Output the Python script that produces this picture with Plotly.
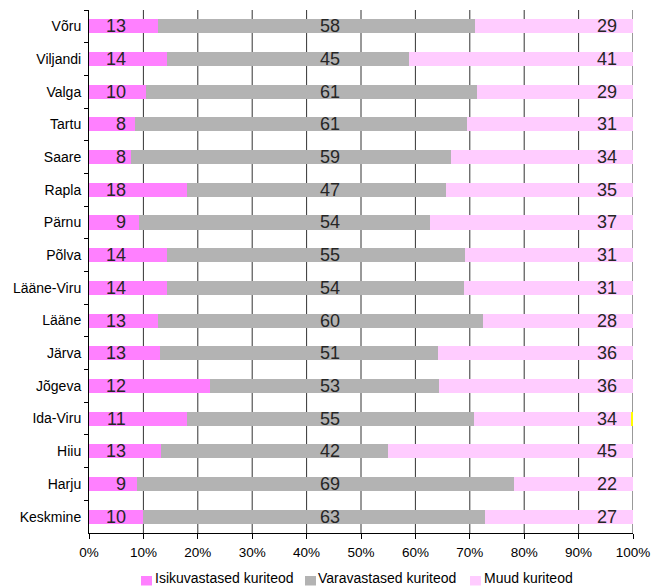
import plotly.graph_objects as go

# Categories (top to bottom)
regions = ["Võru", "Viljandi", "Valga", "Tartu", "Saare", "Rapla", "Pärnu", "Põlva",
           "Lääne-Viru", "Lääne", "Järva", "Jõgeva", "Ida-Viru", "Hiiu", "Harju", "Keskmine"]

# Segment widths (percent) as drawn
isiku = [12.6, 14.4, 10.4, 8.4, 7.8, 18.0, 9.2, 14.4, 14.3, 12.6, 13.0, 22.2, 18.0, 13.3, 8.8, 10.0]
vara = [58.4, 44.4, 60.9, 61.1, 58.7, 47.6, 53.5, 54.7, 54.6, 59.8, 51.2, 42.1, 52.8, 41.7, 69.3, 62.8]
muud = [29.0, 41.2, 28.7, 30.5, 33.5, 34.4, 37.3, 30.9, 31.1, 27.6, 35.8, 35.7, 28.9, 45.0, 21.9, 27.2]
muu2 = [0, 0, 0, 0, 0, 0, 0, 0, 0, 0, 0, 0, 0.3, 0, 0, 0]

# Printed data labels
lab_isiku = [13, 14, 10, 8, 8, 18, 9, 14, 14, 13, 13, 12, 11, 13, 9, 10]
lab_vara = [58, 45, 61, 61, 59, 47, 54, 55, 54, 60, 51, 53, 55, 42, 69, 63]
lab_muud = [29, 41, 29, 31, 34, 35, 37, 31, 31, 28, 36, 36, 34, 45, 22, 27]

x_ticks = list(range(0, 101, 10))

series_names = ["Isikuvastased kuriteod", "Varavastased kuriteod", "Muud kuriteod"]
series_colors = ["#FF80FF", "#B3B3B3", "#FFCCFF"]

FONT = "Liberation Sans, Arial, sans-serif"
W, H = 652, 587
PLOT_L, PLOT_W = 89, 544
PLOT_T, PLOT_H = 10, 523


def px_x(px):
    return (px - PLOT_L) / PLOT_W


def px_y(py):
    return (PLOT_T + PLOT_H - py) / PLOT_H


fig = go.Figure()
for name, vals, col in zip(series_names, [isiku, vara, muud], series_colors):
    fig.add_trace(go.Bar(y=regions, x=vals, orientation="h", name=name,
                         marker=dict(color=col, line=dict(width=0)), showlegend=False,
                         hoverinfo="skip"))
fig.add_trace(go.Bar(y=regions, x=muu2, orientation="h", name="",
                     marker=dict(color="#FFFF00", line=dict(width=0)), showlegend=False,
                     hoverinfo="skip"))

# vertical gridlines (drawn beneath the bars)
for v in x_ticks[1:]:
    fig.add_shape(type="line", xref="x", yref="paper", x0=v, x1=v, y0=0, y1=1,
                  line=dict(color="#333333", width=1), layer="below")

annotations = []
for r, a, b, c in zip(regions, lab_isiku, lab_vara, lab_muud):
    annotations.append(dict(x=7.2, y=r, xref="x", yref="y", text=str(a), showarrow=False,
                            xanchor="right", font=dict(size=18, color="#262626", family=FONT)))
    annotations.append(dict(x=44.3, y=r, xref="x", yref="y", text=str(b), showarrow=False,
                            xanchor="center", font=dict(size=18, color="#262626", family=FONT)))
    annotations.append(dict(x=97.5, y=r, xref="x", yref="y", text=str(c), showarrow=False,
                            xanchor="right", font=dict(size=18, color="#262626", family=FONT)))

# legend (swatch + text) placed as in the reference
legend_sq_px = [141, 305, 470]
legend_txt_px = [154, 317, 483]
for name, col, sx, tx in zip(series_names, series_colors, legend_sq_px, legend_txt_px):
    fig.add_shape(type="rect", xref="paper", yref="paper",
                  x0=px_x(sx), x1=px_x(sx + 11), y0=px_y(585.5), y1=px_y(576),
                  fillcolor=col, line=dict(width=0))
    annotations.append(dict(x=px_x(tx), y=px_y(586.5), xref="paper", yref="paper",
                            text=name, showarrow=False, xanchor="left", yanchor="bottom",
                            borderpad=0,
                            font=dict(size=14, color="black", family=FONT)))

fig.update_layout(
    barmode="stack",
    bargap=0.57,
    width=W, height=H,
    margin=dict(l=PLOT_L, r=W - PLOT_L - PLOT_W, t=PLOT_T, b=H - PLOT_T - PLOT_H),
    plot_bgcolor="white", paper_bgcolor="white",
    font=dict(family=FONT, color="black"),
    showlegend=False,
    annotations=annotations,
    xaxis=dict(range=[0, 100], tickvals=x_ticks, ticktext=[f"{v}%" for v in x_ticks],
               showgrid=False, automargin=False, fixedrange=True,
               showline=True, linecolor="black", linewidth=1,
               ticks="outside", ticklen=5, tickcolor="black", ticklabelstandoff=2,
               tickfont=dict(size=13.5, family=FONT), zeroline=False),
    yaxis=dict(type="category", autorange="reversed", tickson="boundaries",
               showline=True, linecolor="black", linewidth=1, automargin=False, fixedrange=True,
               ticks="outside", ticklen=4, tickcolor="black", ticklabelstandoff=4,
               showgrid=False, tickfont=dict(size=14, family=FONT)),
)

fig.write_html("out.html", config={"displayModeBar": False},
               post_script="document.body.style.margin='0';document.body.style.overflow='hidden';")
